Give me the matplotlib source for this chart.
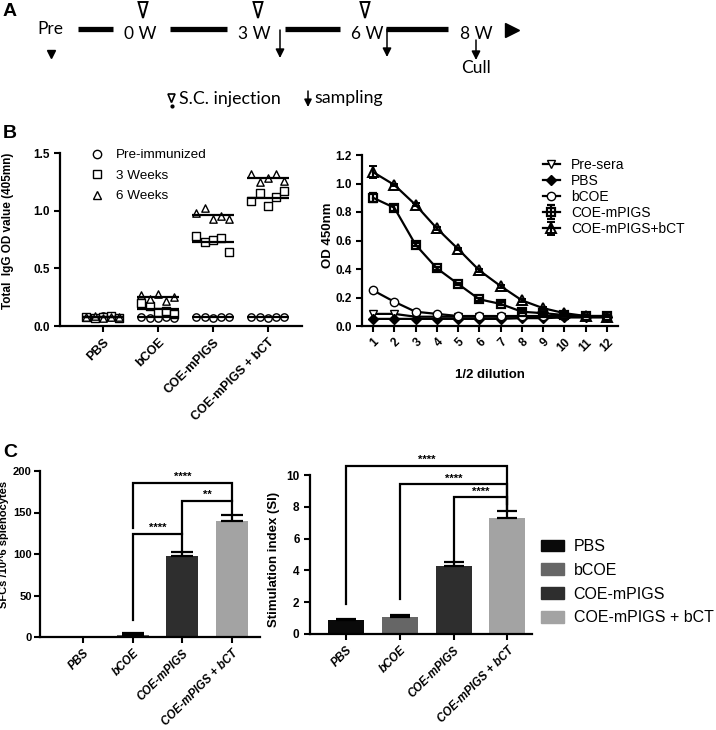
import numpy as np
import matplotlib
matplotlib.use('Agg')
import matplotlib.pyplot as plt
from matplotlib.patches import Polygon, Patch
from matplotlib.lines import Line2D

plt.rcParams['font.family'] = ['Liberation Sans', 'DejaVu Sans']

W, H = 716, 730

# --- A: schemat immunizacji ---
etapy = ['0 W', '3 W', '6 W', '8 W']
etapy_x = [140, 254, 367, 476]
odcinki = [(78, 113), (170, 227), (285, 340), (386, 448)]
iniekcje_x = [143, 258, 365]
pobrania = [(280, 30, 58), (387, 29, 57), (476, 40, 60)]

# --- B (lewy): IgG, 5 myszy na grupe ---
grupy = ['PBS', 'bCOE', 'COE-mPIGS', 'COE-mPIGS + bCT']
igg_pre = [[0.08, 0.07, 0.09, 0.08, 0.07],
           [0.08, 0.07, 0.07, 0.08, 0.07],
           [0.08, 0.08, 0.07, 0.08, 0.08],
           [0.08, 0.08, 0.07, 0.08, 0.08]]
igg_3w = [[0.08, 0.07, 0.08, 0.09, 0.07],
          [0.20, 0.17, 0.12, 0.13, 0.10],
          [0.78, 0.73, 0.75, 0.76, 0.64],
          [1.08, 1.15, 1.04, 1.12, 1.17]]
igg_6w = [[0.08, 0.09, 0.07, 0.08, 0.08],
          [0.27, 0.23, 0.28, 0.22, 0.25],
          [0.98, 1.02, 0.93, 0.95, 0.93],
          [1.32, 1.25, 1.28, 1.32, 1.26]]

# --- B (prawy): krzywe rozcienczen ---
rozc = [str(i) for i in range(1, 13)]
od_pre = [0.085, 0.085, 0.065, 0.065, 0.065, 0.065, 0.065, 0.065, 0.065, 0.065, 0.065, 0.065]
od_pbs = [0.05, 0.05, 0.05, 0.05, 0.05, 0.05, 0.05, 0.055, 0.055, 0.06, 0.06, 0.06]
od_bcoe = [0.25, 0.17, 0.10, 0.085, 0.07, 0.07, 0.07, 0.07, 0.07, 0.07, 0.07, 0.07]
od_mpigs = [0.90, 0.83, 0.57, 0.405, 0.295, 0.187, 0.155, 0.10, 0.09, 0.077, 0.07, 0.07]
od_mpigs_err = [0.03, 0.02, 0.01, 0.01, 0.01, 0.01, 0.01, 0.01, 0.01, 0.005, 0.005, 0.005]
od_bct = [1.08, 0.99, 0.85, 0.685, 0.54, 0.39, 0.28, 0.18, 0.125, 0.09, 0.07, 0.065]
od_bct_err = [0.04, 0.01, 0.01, 0.01, 0.01, 0.01, 0.01, 0.01, 0.01, 0.005, 0.005, 0.005]

# --- C: ELISpot i proliferacja ---
sfc = [0, 3, 97, 140]
sfc_err = [0, 1.5, 6, 7]
si = [0.86, 1.05, 4.3, 7.3]
si_err = [0.08, 0.14, 0.2, 0.45]
kolory = ['#0a0a0a', '#666666', '#2e2e2e', '#a3a3a3']

fig = plt.figure(figsize=(W / 100, H / 100), dpi=100)


def px_ax(l, t, r, b):
    return fig.add_axes([l / W, 1 - b / H, (r - l) / W, (b - t) / H])


def styl(ax, rozmiar=8.5):
    for s in ['top', 'right']:
        ax.spines[s].set_visible(False)
    for s in ['left', 'bottom']:
        ax.spines[s].set_linewidth(1.6)
    ax.tick_params(direction='out', length=4, width=1.5)
    ax.tick_params(axis='y', labelsize=rozmiar)
    for lab in ax.get_yticklabels():
        lab.set_fontweight('bold')


# panel A
axA = fig.add_axes([0, 1 - 112 / H, 1, 112 / H])
axA.set_xlim(0, W)
axA.set_ylim(112, 0)
axA.axis('off')
fA = 'Lato'
axA.text(50, 29, 'Pre', fontsize=12.5, family=fA, ha='center', va='center')
axA.plot([51], [54], marker='v', color='black', markersize=6)
for (a, b) in odcinki:
    axA.plot([a, b], [29, 29], color='black', lw=3.8, solid_capstyle='butt')
for lab, x in zip(etapy, etapy_x):
    axA.text(x, 34, lab, fontsize=12.5, family=fA, ha='center', va='center')
for x in iniekcje_x:
    axA.add_patch(Polygon([(x - 4.5, 2), (x + 4.5, 2), (x, 18)], closed=True,
                          fill=False, ec='black', lw=1.4))
for (x, y0, y1) in pobrania:
    axA.annotate('', xy=(x, y1), xytext=(x, y0),
                 arrowprops=dict(arrowstyle='-|>', color='black', lw=1.1,
                                 mutation_scale=13, shrinkA=0, shrinkB=0))
axA.text(476, 68, 'Cull', fontsize=12.5, family=fA, ha='center', va='center')
axA.plot([512], [30], marker='>', color='black', markersize=9.5)
axA.add_patch(Polygon([(168, 94), (175, 94), (171.5, 102.5)], closed=True,
                      fill=False, ec='black', lw=1.2))
axA.plot([171.5], [106], marker='o', color='black', markersize=2)
axA.text(179, 99, 'S.C. injection', fontsize=12.8, family=fA, ha='left', va='center')
axA.annotate('', xy=(308, 107), xytext=(308, 91),
             arrowprops=dict(arrowstyle='-|>', color='black', lw=1.1,
                             mutation_scale=11, shrinkA=0, shrinkB=0))
axA.text(314, 98, 'sampling', fontsize=12.8, family=fA, ha='left', va='center')

for lab, y in [('A', 12), ('B', 134), ('C', 453)]:
    fig.text(3 / W, 1 - y / H, lab, fontsize=14, fontweight='bold', va='center')

# panel B lewy
ax1 = px_ax(60, 153, 302, 326)
off = np.linspace(-0.3, 0.3, 5)
for i in range(len(grupy)):
    for dane, m in [(igg_pre, 'o'), (igg_3w, 's'), (igg_6w, '^')]:
        ax1.scatter(i + off, dane[i], marker=m, facecolors='white', edgecolors='black',
                    s=28, lw=1, zorder=3)
        ax1.hlines(np.mean(dane[i]), i - 0.38, i + 0.38, color='black', lw=1.6, zorder=4)
ax1.set_xlim(-0.78, 3.62)
ax1.set_ylim(0, 1.5)
ax1.set_yticks([0, 0.5, 1.0, 1.5])
ax1.set_yticklabels(['0.0', '0.5', '1.0', '1.5'])
ax1.set_xticks(range(4))
ax1.set_xticklabels(grupy, rotation=45, ha='right', rotation_mode='anchor',
                    fontweight='bold', fontsize=9)
styl(ax1)
ax1.set_ylabel('Total  IgG OD value (405mn)', fontsize=8.5, fontweight='bold')
ax1.yaxis.set_label_coords(-0.19, 0.55)
uchwyty = [Line2D([], [], marker=m, ls='none', mfc='white', mec='black', ms=6)
           for m in ['o', 's', '^']]
ax1.legend(uchwyty, ['Pre-immunized', '3 Weeks', '6 Weeks'], loc='upper left',
           bbox_to_anchor=(90 / W, 1 - 149 / H), bbox_transform=fig.transFigure,
           frameon=False, fontsize=9.7, handlelength=1.0, handletextpad=0.9,
           labelspacing=0.6, borderpad=0, borderaxespad=0)

# panel B prawy
ax2 = px_ax(362, 155, 618, 326)
xr = np.arange(1, 13)
ax2.plot(xr, od_pre, color='black', lw=1.6, marker='v', mfc='white', mec='black', ms=6,
         label='Pre-sera')
ax2.plot(xr, od_pbs, color='black', lw=1.6, marker='D', mfc='black', ms=5, label='PBS')
ax2.plot(xr, od_bcoe, color='black', lw=1.6, marker='o', mfc='white', mec='black', ms=6,
         label='bCOE')
ax2.errorbar(xr, od_mpigs, yerr=od_mpigs_err, color='black', lw=1.6, marker='s',
             mfc='none', mec='black', mew=1.6, ms=6, capsize=3, label='COE-mPIGS')
ax2.errorbar(xr, od_bct, yerr=od_bct_err, color='black', lw=1.6, marker='^',
             mfc='none', mec='black', mew=1.4, ms=7, capsize=3, label='COE-mPIGS+bCT')
ax2.set_xlim(0.48, 12.52)
ax2.set_ylim(0, 1.2)
ax2.set_yticks(np.arange(0, 1.21, 0.2))
ax2.set_yticklabels(['0.0', '0.2', '0.4', '0.6', '0.8', '1.0', '1.2'])
ax2.set_xticks(xr)
ax2.set_xticklabels(rozc, rotation=45, ha='right', rotation_mode='anchor',
                    fontweight='bold', fontsize=8.5)
styl(ax2)
ax2.set_ylabel('OD 450nm', fontsize=9.5, fontweight='bold')
ax2.yaxis.set_label_coords(-0.11, 0.53)
ax2.set_xlabel('1/2 dilution', fontsize=9.5, fontweight='bold')
ax2.xaxis.set_label_coords(0.5, -0.25)
ax2.legend(loc='upper left', bbox_to_anchor=(543 / W, 1 - 158 / H),
           bbox_transform=fig.transFigure, frameon=False, fontsize=10,
           handlelength=1.2, handletextpad=0.8, labelspacing=0.15,
           borderpad=0, borderaxespad=0)


def klamra(ax, i, j, y, yl, yr, tekst, dy):
    ax.plot([i, i, j, j], [yl, y, y, yr], color='black', lw=1.6, clip_on=False,
            solid_joinstyle='miter')
    ax.text((i + j) / 2, y + dy, tekst, ha='center', va='bottom', fontsize=8,
            fontweight='bold')


xc = np.arange(4)
# panel C lewy
ax3 = px_ax(40, 471, 260, 637)
ax3.bar(xc, sfc, width=0.64, color=kolory)
ax3.errorbar(xc[1:], sfc[1:], yerr=[np.zeros(3), sfc_err[1:]], fmt='none',
             ecolor='black', elinewidth=1.6, capsize=8, capthick=1.6)
klamra(ax3, 1, 2, 124, 20, 103, '****', 1)
klamra(ax3, 2, 3, 164, 124, 148, '**', 1)
klamra(ax3, 1, 3, 185.5, 131, 164, '****', 1)
ax3.set_xlim(-0.86, 3.56)
ax3.set_ylim(0, 200)
ax3.set_yticks([0, 50, 100, 150, 200])
ax3.set_xticks(xc)
ax3.set_xticklabels(grupy, rotation=45, ha='right', rotation_mode='anchor',
                    fontweight='bold', fontstyle='italic', fontsize=8.3)
styl(ax3, 8)
ax3.tick_params(axis='y', pad=2)
ax3.set_ylabel('SFCs /10^6 splenocytes', fontsize=8, fontweight='bold')
ax3.yaxis.set_label_coords(-0.14, 0.56)

# panel C prawy
ax4 = px_ax(310, 475, 532, 634)
ax4.bar(xc, si, width=0.67, color=kolory)
ax4.errorbar(xc, si, yerr=[np.zeros(4), si_err], fmt='none', ecolor='black',
             elinewidth=1.6, capsize=7, capthick=1.6)
klamra(ax4, 0, 3, 10.59, 1.9, 7.8, '****', 0.05)
klamra(ax4, 1, 3, 9.41, 2.2, 7.8, '****', 0.05)
klamra(ax4, 2, 3, 8.6, 4.56, 8.2, '****', 0.05)
ax4.set_xlim(-0.67, 3.46)
ax4.set_ylim(0, 10)
ax4.set_yticks(range(0, 11, 2))
ax4.set_xticks(xc)
ax4.set_xticklabels(grupy, rotation=45, ha='right', rotation_mode='anchor',
                    fontweight='bold', fontstyle='italic', fontsize=8.3)
styl(ax4)
ax4.set_ylabel('Stimulation index (SI)', fontsize=9.5, fontweight='bold')
ax4.yaxis.set_label_coords(-0.135, 0.47)
ax4.legend([Patch(color=c) for c in kolory], grupy, loc='upper left',
           bbox_to_anchor=(541 / W, 1 - 539 / H), bbox_transform=fig.transFigure,
           frameon=False, fontsize=11.5, handlelength=1.45, handleheight=0.75,
           handletextpad=0.6, labelspacing=0.55, borderpad=0, borderaxespad=0)

fig.savefig('out.png', dpi=100)
